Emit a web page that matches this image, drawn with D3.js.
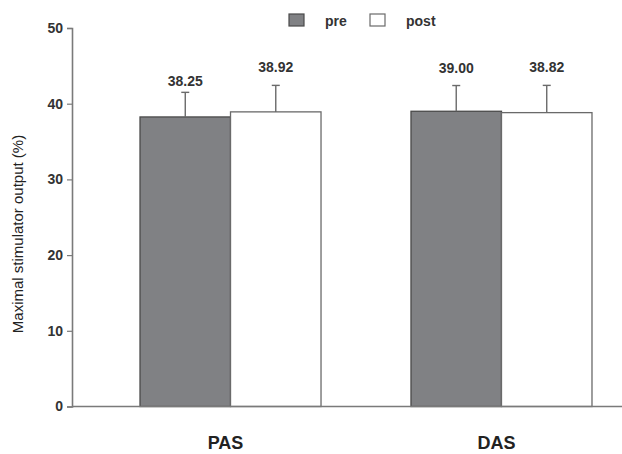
<!DOCTYPE html>
<html>
<head>
<meta charset="utf-8">
<script src="https://cdn.jsdelivr.net/npm/d3@7"></script>
<style>
  html, body { margin: 0; padding: 0; background: #fff; }
  svg { display: block; font-family: "Liberation Sans", Arial, sans-serif; }
</style>
</head>
<body>
<svg id="chart" width="622" height="454"></svg>
<script>
// Protocols on the x axis, pre/post sessions within each
const categories = ["PAS", "DAS"];
const sessions = ["pre", "post"];
const preMeans = [38.25, 39.00];
const postMeans = [38.92, 38.82];
const preSD = [3.25, 3.4];
const postSD = [3.5, 3.6];
const yTicks = [0, 10, 20, 30, 40, 50];

const fills = { pre: "#808184", post: "#ffffff" };
const strokes = { pre: "#4a4a4a", post: "#6a6a6a" };

const rows = categories.map((c, i) => ({
  cat: c,
  values: [
    { session: "pre", mean: preMeans[i], sd: preSD[i] },
    { session: "post", mean: postMeans[i], sd: postSD[i] }
  ]
}));

const svg = d3.select("#chart");
const axisX = 72, axisRight = 622;

const y = d3.scaleLinear().domain([0, 50]).range([406.5, 28]);
const x0 = d3.scaleBand().domain(categories).range([72, 660])
  .paddingInner(0.332).paddingOuter(0.251);
const x1 = d3.scaleBand().domain(sessions).range([0, x0.bandwidth()]).padding(0);

// y axis
const yAxis = d3.axisLeft(y).tickValues(yTicks).tickSize(5).tickPadding(4);
const gy = svg.append("g").attr("transform", `translate(${axisX},0)`).call(yAxis);
gy.select(".domain").attr("stroke", "#7a7a7a").attr("stroke-width", 1.6);
gy.selectAll(".tick line").attr("stroke", "#7a7a7a").attr("stroke-width", 1.2);
gy.selectAll(".tick text")
  .attr("fill", "#333").attr("font-size", 14).attr("font-weight", "bold");

// bars
const groups = svg.append("g").selectAll("g").data(rows).join("g")
  .attr("transform", d => `translate(${x0(d.cat)},0)`);

groups.selectAll("rect").data(d => d.values).join("rect")
  .attr("x", d => x1(d.session))
  .attr("y", d => y(d.mean))
  .attr("width", x1.bandwidth())
  .attr("height", d => y(0) - y(d.mean))
  .attr("fill", d => fills[d.session])
  .attr("stroke", d => strokes[d.session])
  .attr("stroke-width", 1.3);

// error bars (upper half only)
const cap = 4;
groups.selectAll("g.err").data(d => d.values).join("g").attr("class", "err")
  .each(function (d) {
    const g = d3.select(this);
    const cx = x1(d.session) + x1.bandwidth() / 2;
    g.append("line").attr("x1", cx).attr("x2", cx)
      .attr("y1", y(d.mean)).attr("y2", y(d.mean + d.sd))
      .attr("stroke", "#6a6a6a").attr("stroke-width", 1.4);
    g.append("line").attr("x1", cx - cap).attr("x2", cx + cap)
      .attr("y1", y(d.mean + d.sd)).attr("y2", y(d.mean + d.sd))
      .attr("stroke", "#6a6a6a").attr("stroke-width", 1.4);
  });

// value labels above the error bars; the first one sits closer to its cap
groups.each(function (row, gi) {
  d3.select(this).selectAll("text.val").data(row.values).join("text").attr("class", "val")
    .attr("x", d => x1(d.session) + x1.bandwidth() / 2)
    .attr("y", (d, i) => y(d.mean + d.sd) - (gi === 0 && i === 0 ? 6.5 : 13))
    .attr("text-anchor", "middle")
    .attr("fill", "#333").attr("font-size", 14).attr("font-weight", "bold")
    .text(d => d.mean.toFixed(2));
});

// x axis baseline
svg.append("line").attr("x1", axisX).attr("x2", axisRight)
  .attr("y1", y(0)).attr("y2", y(0))
  .attr("stroke", "#7a7a7a").attr("stroke-width", 1.6);

// category labels
svg.selectAll("text.cat").data(categories).join("text").attr("class", "cat")
  .attr("x", d => x0(d) + x0.bandwidth() / 2 - 5)
  .attr("y", 449)
  .attr("text-anchor", "middle")
  .attr("fill", "#222").attr("font-size", 18).attr("font-weight", "bold")
  .text(d => d);

// y axis title
svg.append("text")
  .attr("transform", "translate(23,234) rotate(-90)")
  .attr("text-anchor", "middle")
  .attr("fill", "#222").attr("font-size", 15)
  .text("Maximal stimulator output (%)");

// legend
const legendX = [289, 370];
const legend = svg.append("g").selectAll("g").data(sessions).join("g")
  .attr("transform", (d, i) => `translate(${legendX[i]},14)`);
legend.append("rect").attr("width", 15).attr("height", 12)
  .attr("fill", d => fills[d]).attr("stroke", d => strokes[d]).attr("stroke-width", 1.2);
legend.append("text").attr("x", 36).attr("y", 12)
  .attr("fill", "#333").attr("font-size", 14).attr("font-weight", "bold")
  .text(d => d);
</script>
</body>
</html>
